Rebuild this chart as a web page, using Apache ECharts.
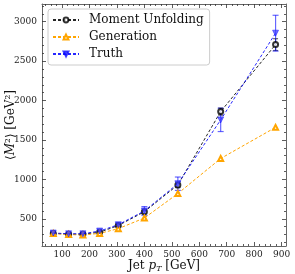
<!DOCTYPE html>
<html><head><meta charset="utf-8">
<script src="https://cdn.jsdelivr.net/npm/echarts@6/dist/echarts.min.js"></script>
<style>html,body{margin:0;padding:0;background:#fff}#c{width:295px;height:274px}</style>
</head><body><div id="c"></div>
<script>
const ptBins = [68, 124, 176, 237, 305, 400, 522, 678, 878];
const momentVals = [315, 305, 305, 330, 415, 590, 930, 1860, 2710];
const momentErr = [8, 8, 8, 10, 12, 20, 35, 45, 75];
const generationVals = [315, 300, 295, 315, 375, 510, 820, 1265, 1660];
const truthVals = [320, 310, 310, 345, 425, 600, 945, 1755, 2855];
const truthErr = [12, 10, 10, 14, 22, 55, 85, 148, 227];
const xTicks = [100, 200, 300, 400, 500, 600, 700, 800, 900];
const yTicks = [500, 1000, 1500, 2000, 2500, 3000];
const xMinor = [40,60,80,120,140,160,180,220,240,260,280,320,340,360,380,420,440,460,480,520,540,560,580,620,640,660,680,720,740,760,780,820,840,860,880];
const yMinor = [200,300,400,600,700,800,900,1100,1200,1300,1400,1600,1700,1800,1900,2100,2200,2300,2400,2600,2700,2800,2900,3100,3200];

const XMIN = 27, XMAX = 916, YMIN = 155, YMAX = 3225;
const FONT = 'DejaVu Serif';
const frameColor = '#666';

function xAx(pos, ticks, len, showLabel, showLine) {
  return {
    type: 'value', position: pos, min: XMIN, max: XMAX,
    splitLine: {show: false},
    axisLine: {show: showLine, onZero: false, lineStyle: {color: frameColor, width: 1}},
    axisTick: {show: true, inside: true, length: len, customValues: ticks, lineStyle: {color: '#333', width: 0.8}},
    axisLabel: {show: showLabel, customValues: ticks, fontFamily: FONT, fontSize: 9, color: '#222', margin: 4,
      formatter: v => String(v)}
  };
}
function yAx(pos, ticks, len, showLabel, showLine) {
  return {
    type: 'value', position: pos, min: YMIN, max: YMAX,
    splitLine: {show: false},
    axisLine: {show: showLine, onZero: false, lineStyle: {color: frameColor, width: 1}},
    axisTick: {show: true, inside: true, length: len, customValues: ticks, lineStyle: {color: '#333', width: 0.8}},
    axisLabel: {show: showLabel, customValues: ticks, fontFamily: FONT, fontSize: 9, color: '#222', margin: 5,
      formatter: v => String(v)}
  };
}

const xAxes = [
  xAx('bottom', xTicks, 4, true, true),
  Object.assign(xAx('bottom', xMinor, 2, false, false), {
    name: '{n|Jet }{i|p}{s|T}{n| [GeV]}', nameLocation: 'middle', nameGap: 13,
    nameMoveOverlap: false,
    nameTextStyle: {rich: {
      n: {fontFamily: FONT, fontSize: 12, color: '#111'},
      i: {fontFamily: FONT, fontStyle: 'italic', fontSize: 12, color: '#111'},
      s: {fontFamily: FONT, fontStyle: 'italic', fontSize: 8, color: '#111', padding: [6, 0, 0, 0]}
    }}
  }),
  xAx('top', xTicks, 4, false, true),
  xAx('top', xMinor, 2, false, false)
];
const yAxes = [
  yAx('left', yTicks, 4, true, true),
  Object.assign(yAx('left', yMinor, 2, false, false), {
    name: '{n|⟨}{i|M}{n|²⟩ [GeV²]}', nameLocation: 'middle', nameGap: 25, nameRotate: 90,
    nameMoveOverlap: false,
    nameTextStyle: {rich: {
      n: {fontFamily: FONT, fontSize: 12, color: '#111'},
      i: {fontFamily: FONT, fontStyle: 'italic', fontSize: 12, color: '#111'}
    }}
  }),
  yAx('right', yTicks, 4, false, true),
  yAx('right', yMinor, 2, false, false)
];

function pairs(vals) { return ptBins.map((x, i) => [x, vals[i]]); }
function errData(vals, errs) { return ptBins.map((x, i) => [x, vals[i] - errs[i], vals[i] + errs[i]]); }
function errSeries(vals, errs, color, opacity, cap) {
  return {
    type: 'custom', xAxisIndex: 0, yAxisIndex: 0, silent: true, z: 3,
    data: errData(vals, errs),
    renderItem: function (params, api) {
      const x = api.value(0);
      const lo = api.coord([x, api.value(1)]);
      const hi = api.coord([x, api.value(2)]);
      const style = {stroke: color, lineWidth: 1.2, opacity: opacity};
      return {type: 'group', children: [
        {type: 'line', shape: {x1: lo[0], y1: lo[1], x2: hi[0], y2: hi[1]}, style: style},
        {type: 'line', shape: {x1: lo[0] - cap, y1: lo[1], x2: lo[0] + cap, y2: lo[1]}, style: style},
        {type: 'line', shape: {x1: hi[0] - cap, y1: hi[1], x2: hi[0] + cap, y2: hi[1]}, style: style}
      ]};
    }
  };
}

const chart = echarts.init(document.getElementById('c'), null, {renderer: 'canvas'});
chart.setOption({
  animation: false,
  backgroundColor: '#fff',
  grid: {left: 42, right: 9, top: 4, bottom: 28, containLabel: false, outerBoundsMode: 'none'},
  xAxis: xAxes,
  yAxis: yAxes,
  legend: {
    orient: 'vertical', left: 48, top: 9,
    itemWidth: 26, itemHeight: 6, itemGap: 5,
    padding: [5, 6, 5, 4],
    backgroundColor: 'rgba(255,255,255,0.85)',
    borderColor: '#ccc', borderWidth: 1, borderRadius: 3,
    textStyle: {fontFamily: FONT, fontSize: 12, color: '#111', padding: [0, 0, 0, 5]},
    data: ['Moment Unfolding', 'Generation', 'Truth']
  },
  series: [
    errSeries(momentVals, momentErr, '#000', 0.6, 2.5),
    {
      name: 'Moment Unfolding', type: 'line', data: pairs(momentVals), z: 4,
      symbol: 'emptyCircle', symbolSize: 5,
      lineStyle: {color: '#000', width: 1, type: [3, 2], opacity: 0.85},
      itemStyle: {color: '#000', borderColor: '#444', borderWidth: 0.8, opacity: 0.8}
    },
    {
      name: 'Generation', type: 'line', data: pairs(generationVals), z: 4,
      symbol: 'emptyTriangle', symbolSize: 5,
      lineStyle: {color: '#ffa500', width: 1, type: [3, 2]},
      itemStyle: {color: '#ffa500', borderColor: '#ffa500', borderWidth: 0.8}
    },
    errSeries(truthVals, truthErr, '#0000ff', 0.6, 3),
    {
      name: 'Truth', type: 'line', data: pairs(truthVals), z: 5,
      symbol: 'triangle', symbolRotate: 180, symbolSize: 6,
      lineStyle: {color: '#0000ff', width: 1, type: [3, 2], opacity: 0.85},
      itemStyle: {color: '#4040ff', borderColor: '#0000ff', borderWidth: 0.6, opacity: 0.75}
    }
  ]
});
</script></body></html>
